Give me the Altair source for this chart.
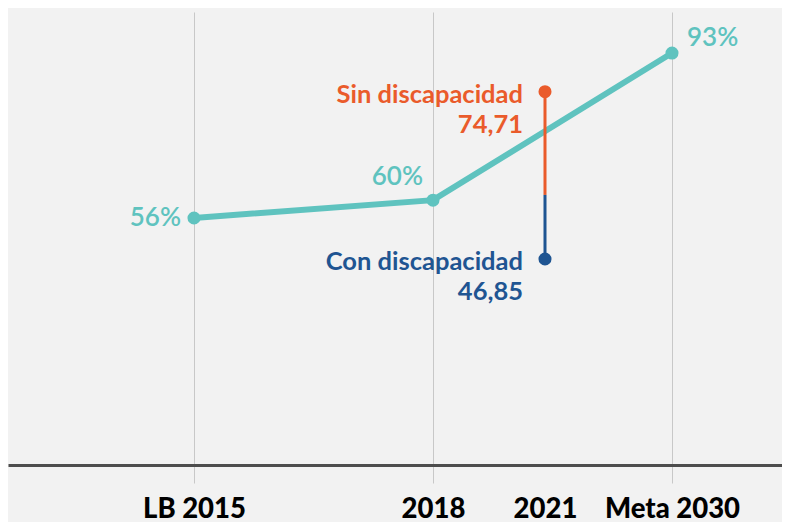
import altair as alt
import pandas as pd

# ---- data ----
years = [2015, 2018, 2021, 2030]
tick_labels = ["LB 2015", "2018", "2021", "Meta 2030"]

line_years = [2015, 2018, 2030]
line_values = [56, 60, 93]
line_labels = ["56%", "60%", "93%"]

gap_year = 2021
series_names = ["Sin discapacidad", "Con discapacidad"]
series_values = [74.71, 46.85]
series_value_labels = ["74,71", "46,85"]

# ---- styles ----
TEAL = "#5fc3bf"
ORANGE = "#ea5b2b"
BLUE = "#1f5592"
BG = "#f2f2f2"
FONT = "Lato"

line_df = pd.DataFrame({"year": line_years, "value": line_values, "label": line_labels})
gap_df = pd.DataFrame({
    "year": [gap_year],
    "sin": [series_values[0]],
    "con": [series_values[1]],
    "sin_name": [series_names[0]],
    "con_name": [series_names[1]],
    "sin_lab": [series_value_labels[0]],
    "con_lab": [series_value_labels[1]],
})

label_map = "{" + ",".join(f"'{y}':'{t}'" for y, t in zip(years, tick_labels)) + "}"

x_scale = alt.Scale(domain=[2012, 2015, 2018, 2021, 2030, 2032],
                    range=[0, 186, 425, 537, 664, 774], nice=False, zero=False)

x_axis = alt.Axis(
    values=years,
    title=None,
    labelExpr=f"{label_map}[''+datum.value]",
    labelFont=FONT,
    labelFontWeight=900,
    labelFontSize=27.5,
    labelColor="#000000",
    labelBaseline="alphabetic",
    labelPadding=34,
    labelFlush=False,
    labelOverlap=False,
    grid=True,
    gridColor="#c8c8c8",
    gridWidth=1,
    gridOpacity={"condition": {"test": "datum.value == 2021", "value": 0}, "value": 1},
    ticks=True,
    tickSize=18,
    tickColor="#c8c8c8",
    tickWidth=1,
    tickOpacity={"condition": {"test": "datum.value == 2021", "value": 0}, "value": 1},
    domainColor="#4d4d4d",
    domainWidth=3,
)

x_enc = alt.X("year:Q", scale=x_scale, axis=x_axis)

y_line = alt.Y("value:Q", scale=alt.Scale(domain=[0.6, 102.2], nice=False, zero=False), axis=None)

base_line = alt.Chart(line_df)
line = base_line.mark_line(color=TEAL, strokeWidth=6).encode(x=x_enc, y=y_line)
pts = base_line.mark_point(filled=True, color=TEAL, size=170, opacity=1).encode(x=x_enc, y=y_line)

def pct_text(yr, align, dx, dy):
    return base_line.transform_filter(f"datum.year == {yr}").mark_text(
        font=FONT, fontSize=26, fontWeight=600, color=TEAL, align=align,
        baseline="alphabetic", dx=dx, dy=dy
    ).encode(x=x_enc, y=y_line, text="label:N")

t56 = pct_text(2015, "right", -13, 8)
t60 = pct_text(2018, "right", -10, -15)
t93 = pct_text(2030, "left", 15, -7)

line_layer = alt.layer(line, pts, t56, t60, t93)

# dumbbell with its own vertical scale
y_gap_scale = alt.Scale(domain=[12.55, 87.98], nice=False, zero=False)
base_gap = alt.Chart(gap_df).transform_calculate(
    split="datum.sin - 0.617 * (datum.sin - datum.con)"
)
rule_top = base_gap.mark_rule(color=ORANGE, strokeWidth=3).encode(
    x=x_enc, y=alt.Y("sin:Q", scale=y_gap_scale, axis=None), y2="split:Q")
rule_bot = base_gap.mark_rule(color=BLUE, strokeWidth=3).encode(
    x=x_enc, y=alt.Y("split:Q", scale=y_gap_scale, axis=None), y2="con:Q")
dot_top = base_gap.mark_point(filled=True, color=ORANGE, size=170, opacity=1).encode(
    x=x_enc, y=alt.Y("sin:Q", scale=y_gap_scale, axis=None))
dot_bot = base_gap.mark_point(filled=True, color=BLUE, size=170, opacity=1).encode(
    x=x_enc, y=alt.Y("con:Q", scale=y_gap_scale, axis=None))

def gap_text(yfield, tfield, color, dy):
    return base_gap.mark_text(
        font=FONT, fontSize=25.5, fontWeight="bold", color=color, align="right",
        baseline="alphabetic", dx=-22, dy=dy
    ).encode(x=x_enc, y=alt.Y(f"{yfield}:Q", scale=y_gap_scale, axis=None),
             text=f"{tfield}:N")

gap_layer = alt.layer(
    rule_top, rule_bot, dot_top, dot_bot,
    gap_text("sin", "sin_name", ORANGE, 11),
    gap_text("sin", "sin_lab", ORANGE, 41),
    gap_text("con", "con_name", BLUE, 11),
    gap_text("con", "con_lab", BLUE, 41),
)

chart = alt.layer(line_layer, gap_layer).resolve_scale(y="independent").properties(
    width=774, height=453,
    background=BG,
    padding={"top": 4, "left": 0, "right": 0, "bottom": 0},
).configure_view(stroke=None)

chart.save("out.html", embed_options={"renderer": "svg", "actions": False})
